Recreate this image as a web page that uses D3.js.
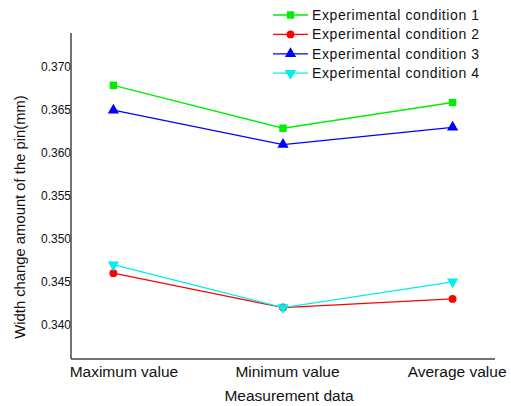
<!DOCTYPE html>
<html>
<head>
<meta charset="utf-8">
<script src="https://cdn.jsdelivr.net/npm/d3@7"></script>
<style>
  body { margin: 0; background: #fff; }
  text { font-family: "Liberation Sans", Arial, sans-serif; fill: #111; }
</style>
</head>
<body>
<div id="chart"></div>
<script>
const categories = ['Maximum value', 'Minimum value', 'Average value'];
const seriesNames = ['Experimental condition 1', 'Experimental condition 2', 'Experimental condition 3', 'Experimental condition 4'];
const cond1 = [0.3678, 0.3628, 0.3658];
const cond2 = [0.3459, 0.3419, 0.3429];
const cond3 = [0.3649, 0.3609, 0.3629];
const cond4 = [0.3469, 0.3419, 0.3449];
const yTicks = [0.340, 0.345, 0.350, 0.355, 0.360, 0.365, 0.370];

const colors = ['#00ee00', '#ff0000', '#0000ff', '#00eeee'];
const symbols = [d3.symbolSquare, d3.symbolCircle, d3.symbolTriangle, 'down'];
const allSeries = [cond1, cond2, cond3, cond4];

const W = 511, H = 406;
const plotLeft = 71, plotRight = 495, plotTop = 33, plotBottom = 359;

const svg = d3.select('#chart').append('svg')
    .attr('width', W).attr('height', H);

const x = d3.scalePoint().domain(categories).range([plotLeft, plotRight]).padding(0.25);
const y = d3.scaleLinear().domain([0.3359, 0.3739]).range([plotBottom, plotTop]);

// y axis
const yAxis = svg.append('g')
    .attr('transform', 'translate(' + plotLeft + ',0)')
    .call(d3.axisLeft(y).tickValues(yTicks).tickFormat(d3.format('.3f')).tickSize(0).tickPadding(0));
yAxis.select('.domain').remove();
yAxis.selectAll('text').style('font-size', '12px').attr('dy', '0.35em');

// x axis
const xAxis = svg.append('g')
    .attr('transform', 'translate(0,' + plotBottom + ')')
    .call(d3.axisBottom(x).tickSize(0).tickPadding(0));
xAxis.select('.domain').remove();
const labelShift = [10, 4, 4];
xAxis.selectAll('text')
    .style('font-size', '15.5px')
    .attr('dy', '1.15em')
    .attr('dx', (d, i) => labelShift[i]);

// axis lines
svg.append('line').attr('x1', plotLeft).attr('x2', plotLeft).attr('y1', plotTop).attr('y2', plotBottom)
    .attr('stroke', '#444').attr('stroke-width', 1.5);
svg.append('line').attr('x1', plotLeft).attr('x2', plotRight).attr('y1', plotBottom).attr('y2', plotBottom)
    .attr('stroke', '#444').attr('stroke-width', 1.5);

function marker(sel, i) {
    if (symbols[i] === 'down') {
        sel.attr('d', d3.symbol().type(d3.symbolTriangle).size(55)())
           .attr('transform', sel.attr('transform') + ' rotate(180)');
    } else {
        const size = i === 1 ? 48 : 55;
        sel.attr('d', d3.symbol().type(symbols[i]).size(size)());
    }
}

const line = d3.line()
    .x((d, i) => x(categories[i]))
    .y(d => y(d));

// draw series (blue and green first so red/cyan overlap like the source)
[2, 0, 1, 3].forEach(i => {
    const vals = allSeries[i];
    svg.append('path')
        .datum(vals)
        .attr('fill', 'none')
        .attr('stroke', colors[i])
        .attr('stroke-width', 1.3)
        .attr('d', line);
    svg.selectAll('.m' + i)
        .data(vals)
        .enter().append('path')
        .attr('class', 'm' + i)
        .attr('fill', colors[i])
        .attr('transform', (d, j) => 'translate(' + x(categories[j]) + ',' + y(d) + ')')
        .each(function() { marker(d3.select(this), i); });
});

// legend
const lg = svg.append('g').attr('transform', 'translate(273,15)');
seriesNames.forEach((name, i) => {
    const g = lg.append('g').attr('transform', 'translate(0,' + (i * 19.4) + ')');
    g.append('line').attr('x1', 0).attr('x2', 35).attr('y1', 0).attr('y2', 0)
        .attr('stroke', colors[i]).attr('stroke-width', 1.3);
    g.append('path').attr('fill', colors[i])
        .attr('transform', 'translate(17.5,0)')
        .each(function() { marker(d3.select(this), i); });
    g.append('text').attr('x', 39).attr('y', 5)
        .style('font-size', '14px').style('letter-spacing', '0.6px')
        .text(name);
});

// axis titles
svg.append('text')
    .attr('x', 289).attr('y', 401)
    .attr('text-anchor', 'middle')
    .style('font-size', '15.5px')
    .text('Measurement data');

svg.append('text')
    .attr('transform', 'translate(25,217) rotate(-90)')
    .attr('text-anchor', 'middle')
    .style('font-size', '14.8px')
    .text('Width change amount of the pin(mm)');
</script>
</body>
</html>
